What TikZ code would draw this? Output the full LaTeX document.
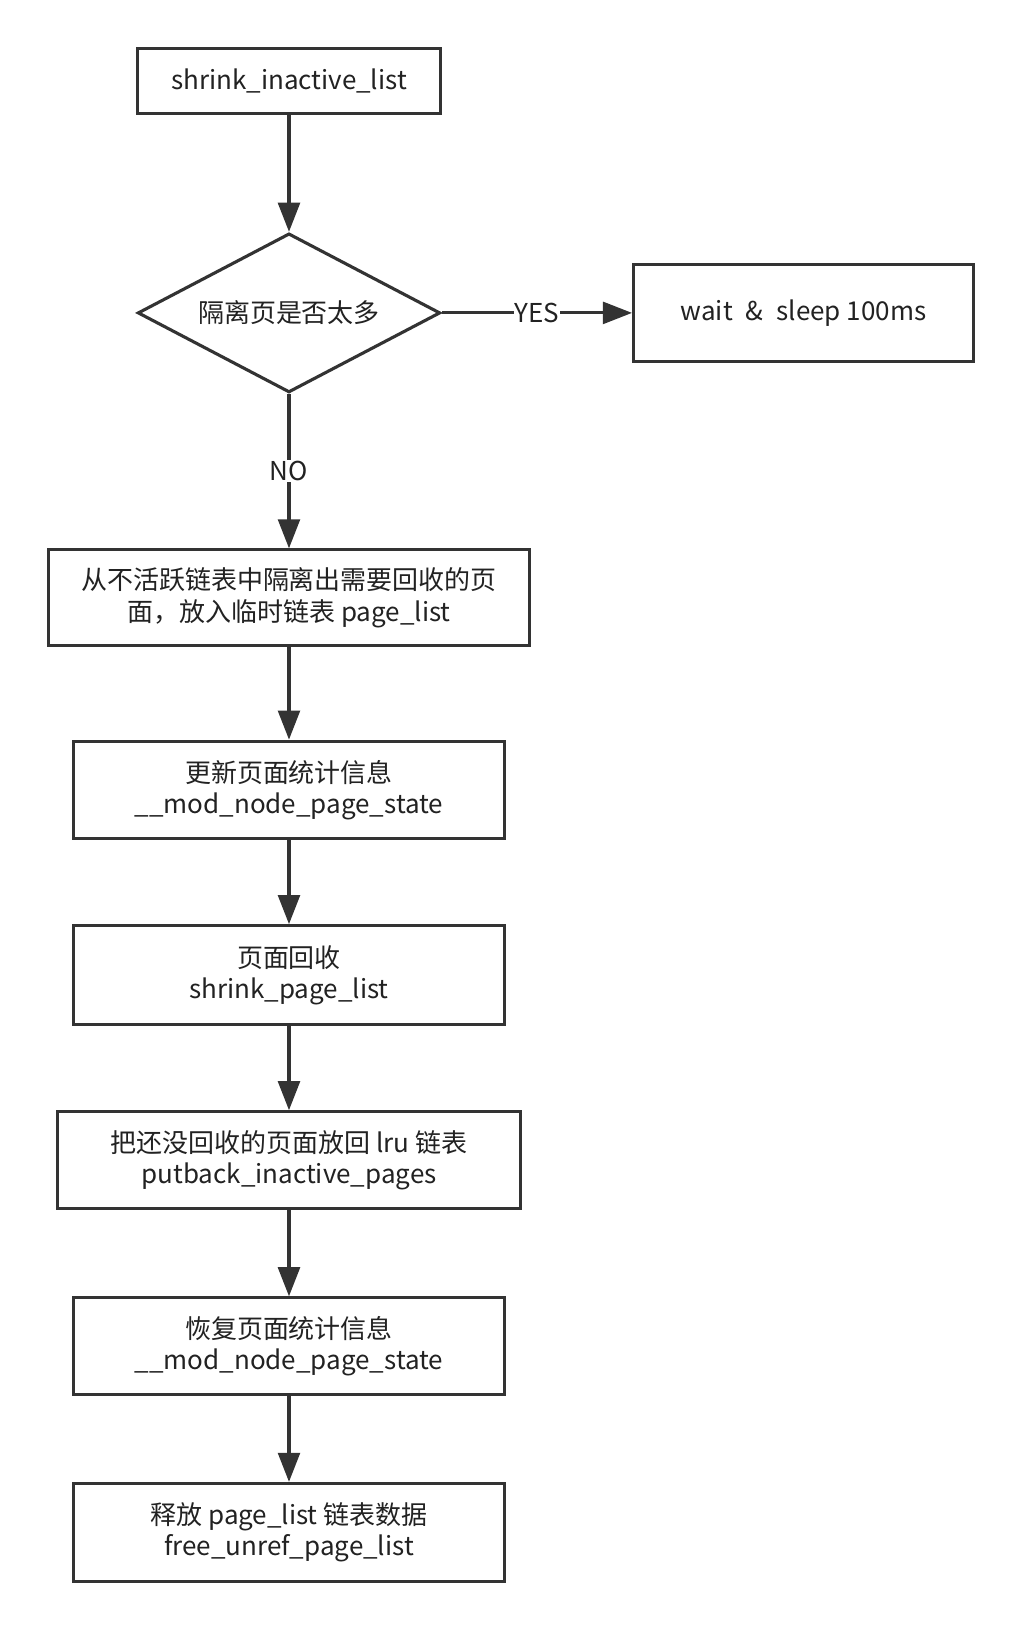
\documentclass[tikz,border=0pt]{standalone}
\usepackage{fontspec}
\setmainfont{Noto Sans CJK SC}
\usetikzlibrary{shapes.geometric,arrows.meta}
\definecolor{linegray}{RGB}{51,51,51}
\definecolor{textgray}{RGB}{34,34,34}
\begin{document}
\begin{tikzpicture}[x=1pt,y=-1pt,
  proc/.style={draw=linegray,line width=3pt,fill=white,align=center,inner sep=0pt,
    text=textgray,font=\fontsize{25}{30}\selectfont},
  test/.style={proc,shape=diamond,shape aspect=2},
  link/.style={draw=linegray,line width=3pt,-{Triangle[length=28pt,width=21pt]}},
  tag/.style={fill=white,text=textgray,inner sep=1pt,font=\fontsize{25}{30}\selectfont}]
 \useasboundingbox (0,0) rectangle (986,1568);
 \node (box 1) at (278,78) [proc,minimum width=291,minimum height=62] {shrink\_inactive\_list};
 \node (test 1) at (278,301) [test,minimum width=291,minimum height=153] {隔离页是否太多};
 \node (box 2) at (773,301) [proc,minimum width=327,minimum height=93] {wait \;\&\; sleep 100ms};
 \node (box 3) at (278,575) [proc,minimum width=463,minimum height=92] {从不活跃链表中隔离出需要回收的页\\面，放入临时链表 page\_list};
 \node (box 4) at (278,760) [proc,minimum width=415,minimum height=94] {更新页面统计信息\\\_\_mod\_node\_page\_state};
 \node (box 5) at (278,938) [proc,minimum width=415,minimum height=95] {页面回收\\shrink\_page\_list};
 \node (box 6) at (278,1116) [proc,minimum width=446,minimum height=93] {把还没回收的页面放回 lru 链表\\putback\_inactive\_pages};
 \node (box 7) at (278,1295) [proc,minimum width=415,minimum height=93] {恢复页面统计信息\\\_\_mod\_node\_page\_state};
 \node (box 8) at (278,1474) [proc,minimum width=415,minimum height=94] {释放 page\_list 链表数据\\free\_unref\_page\_list};
 \draw [link] (box 1) -- (test 1);
 \draw [link] (test 1.east) -- node [tag] {YES} (box 2);
 \draw [link] (test 1.south) -- node [tag] {NO} (box 3);
 \draw [link] (box 3) -- (box 4);
 \draw [link] (box 4) -- (box 5);
 \draw [link] (box 5) -- (box 6);
 \draw [link] (box 6) -- (box 7);
 \draw [link] (box 7) -- (box 8);
\end{tikzpicture}
\end{document}
